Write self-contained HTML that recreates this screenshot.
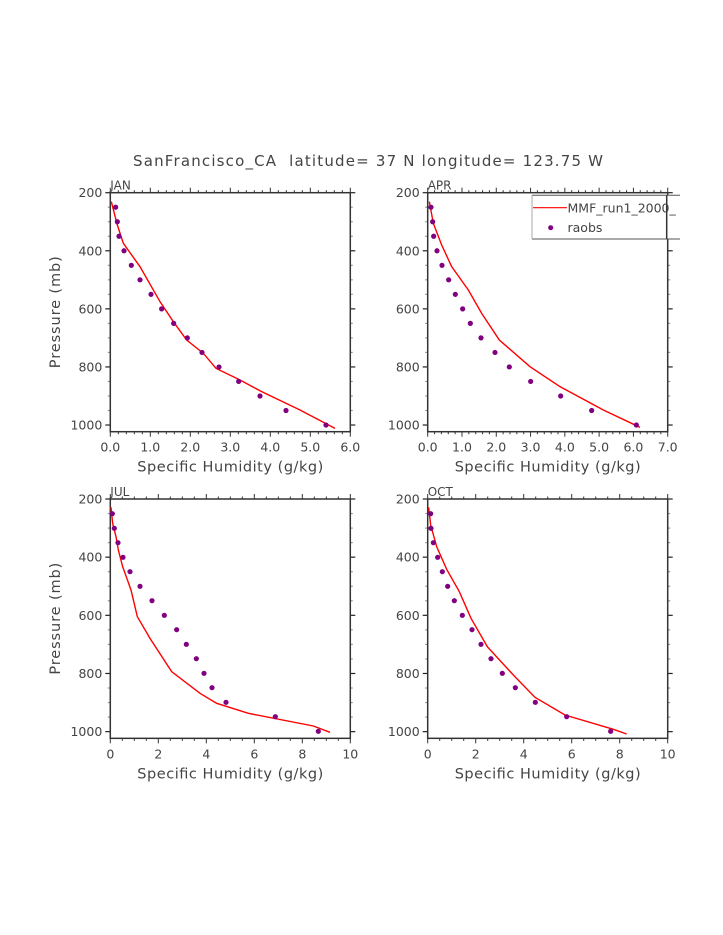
<!DOCTYPE html>
<html><head><meta charset="utf-8"><style>
html,body{margin:0;padding:0;background:#fff}
svg{display:block}
text{font-family:"DejaVu Sans","Liberation Sans",sans-serif;fill:#444}
</style></head><body>
<svg id="s" width="723" height="935" viewBox="0 0 723 935" xmlns="http://www.w3.org/2000/svg">
<text x="133" y="166" font-size="15" textLength="470" lengthAdjust="spacing" xml:space="preserve">SanFrancisco_CA  latitude= 37 N longitude= 123.75 W</text>
</svg>
<script>
var S=document.getElementById('s'),NS='http://www.w3.org/2000/svg';
function el(t,a,txt){var e=document.createElementNS(NS,t);for(var k in a)e.setAttribute(k,a[k]);if(txt!==undefined)e.textContent=txt;S.appendChild(e);return e;}
function panel(o){
 var x0=o.x0,x1=o.x0+240,yt=o.yt,sc=o.sc,yb=yt+823*sc;
 function Y(p){return yt+(p-200)*sc;}
 function X(v){return x0+v*240/o.xmax;}
 for(var p=200;p<=1000;p+=50){var y=Y(p),maj=(p%200==0);
  el('line',{x1:x0-(maj?5:2.5),x2:x0,y1:y,y2:y,stroke:maj?'#222':'#999','stroke-width':1.2});
  el('line',{x1:x1,x2:x1+(maj?5:2.5),y1:y,y2:y,stroke:maj?'#222':'#999','stroke-width':1.2});
  if(maj)el('text',{x:x0-8,y:y+4.5,'font-size':12.5,'text-anchor':'end'},p);}
 for(var i=0;i<=Math.round(o.xmax/o.minor);i++){var v=i*o.minor,x=X(v),maj=Math.abs(v/o.major-Math.round(v/o.major))<1e-6;
  el('line',{x1:x,x2:x,y1:yt,y2:yt-(maj?5:2.5),stroke:'#333','stroke-width':1});
  el('line',{x1:x,x2:x,y1:yb,y2:yb+(maj?5:2.5),stroke:'#333','stroke-width':1});
  if(maj)el('text',{x:x,y:yb+20,'font-size':12.5,'text-anchor':'middle'},o.fmt(Math.round(v/o.major)*o.major));}
 el('rect',{x:x0,y:yt,width:240,height:yb-yt,fill:'none',stroke:'#333','stroke-width':1.5});
 el('text',{x:x0,y:yt-3,'font-size':12},o.name);
 el('text',{x:x0+27,y:yb+40,'font-size':14.5,textLength:186,lengthAdjust:'spacing'},'Specific Humidity (g/kg)');
 if(o.ylab){el('text',{x:0,y:0,'font-size':14.5,'text-anchor':'middle',textLength:112,lengthAdjust:'spacing',transform:'translate(60,'+((yt+yb)/2)+') rotate(-90)'},'Pressure (mb)');}
 var ox=o.ox,oy=o.oy;
 el('polyline',{points:o.line.map(function(q){return (ox+q[0]/3)+','+(oy+q[1]/3)}).join(' '),fill:'none',stroke:'#f00','stroke-width':1.4});
 o.dots.forEach(function(q){el('circle',{cx:ox+q[0]/3,cy:oy+q[1]/3,r:2.6,fill:'#800080'});});
}
var ps=[101,145,188,232,275,319,362,406,449,493,536,580,623,667,710,754];
function yTop(i){return (192.7+(50*i+50)*0.2904-150)*3;}
panel({name:'JAN',x0:110.3,yt:192.7,sc:0.2904,xmax:6,major:1,minor:0.2,fmt:function(v){return v.toFixed(1)},ylab:true,ox:40,oy:150,
 line:[[214,155],[232,225],[250,280],[300,350],[360,455],[400,515],[440,570],[490,610],[528,655],[600,690],[665,725],[780,780],[885,835]],
 dots:[227,232,237,252,274,300,333,365,401,442,486,537,596,660,738,858].map(function(x,i){return [x,yTop(i)]})});
panel({name:'APR',x0:427.7,yt:192.7,sc:0.2904,xmax:7,major:1,minor:0.2,fmt:function(v){return v.toFixed(1)},ylab:false,ox:400,oy:170,
 line:[[88,95],[100,160],[125,225],[155,290],[205,360],[245,430],[298,510],[390,590],[480,650],[610,720],[720,772]],
 dots:[93,98,101,111,126,146,166,188,211,243,285,328,392,482,575,709].map(function(x,i){return [x,yTop(i)+(150-170)*3]})});
panel({name:'JUL',x0:110.3,yt:499,sc:0.2908,xmax:10,major:2,minor:0.5,fmt:function(v){return v},ylab:true,ox:40,oy:480,
 line:[[213,82],[218,130],[228,170],[235,210],[248,260],[273,330],[292,410],[330,475],[395,575],[480,640],[530,670],[625,700],[820,738],[870,757]],
 dots:[217,223,234,249,270,300,336,373,410,439,469,492,516,558,706,835].map(function(x,i){return [x,ps[i]]})});
panel({name:'OCT',x0:427.7,yt:499,sc:0.2908,xmax:10,major:2,minor:0.5,fmt:function(v){return v},ylab:false,ox:400,oy:480,
 line:[[86,82],[92,135],[110,200],[140,268],[178,335],[213,415],[262,500],[340,585],[405,652],[495,705],[640,748],[680,762]],
 dots:[92,93,100,113,127,143,163,187,216,243,273,307,346,406,500,632].map(function(x,i){return [x,ps[i]]})});
el('rect',{x:532,y:195.3,width:200,height:43.7,fill:'#fff',stroke:'none'});
el('line',{x1:532,x2:680,y1:195.3,y2:195.3,stroke:'#555','stroke-width':1});
el('line',{x1:532,x2:680,y1:239,y2:239,stroke:'#555','stroke-width':1});
el('line',{x1:532,x2:532,y1:195.3,y2:239,stroke:'#aaa','stroke-width':1});
el('line',{x1:666.7,x2:666.7,y1:195.3,y2:239,stroke:'#333','stroke-width':1.5});
el('line',{x1:533,x2:567,y1:207.7,y2:207.7,stroke:'#f00','stroke-width':1.2});
el('text',{x:567.5,y:212.5,'font-size':12.5},'MMF_run1_2000_');
el('circle',{cx:550.7,cy:227.7,r:2.5,fill:'#800080'});
el('text',{x:567.5,y:232,'font-size':12.5},'raobs');
</script>
</body></html>
